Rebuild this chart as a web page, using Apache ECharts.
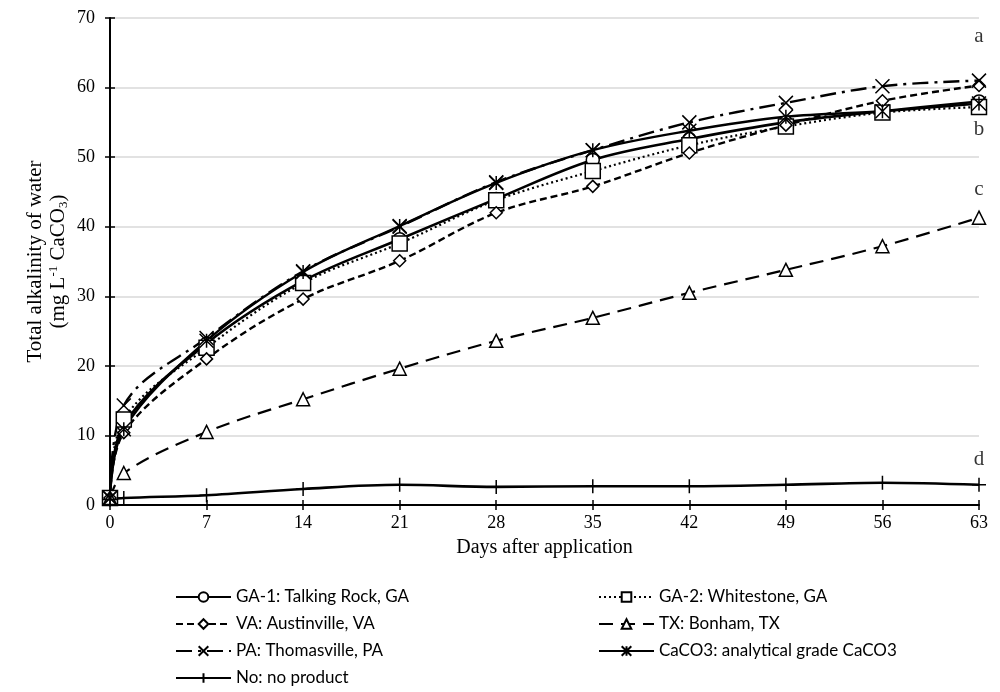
<!DOCTYPE html>
<html>
<head>
<meta charset="utf-8">
<script src="https://cdn.jsdelivr.net/npm/echarts@6/dist/echarts.min.js"></script>
<style>
  html, body { margin: 0; padding: 0; background: #fff; }
  #chart { width: 1000px; height: 692px; }
</style>
</head>
<body>
<div id="chart"></div>
<script>
// days of sampling
const days = [0, 1, 7, 14, 21, 28, 35, 42, 49, 56, 63];
// total alkalinity, mg L-1 CaCO3
const ga1 = [1.0, 11.5, 23.2, 32.2, 38.2, 44.0, 49.6, 52.6, 55.0, 56.6, 58.0];
const ga2 = [1.0, 12.3, 22.6, 31.9, 37.6, 43.8, 48.0, 51.7, 54.4, 56.4, 57.2];
const va = [1.0, 10.4, 21.0, 29.6, 35.1, 42.0, 45.8, 50.6, 54.6, 58.1, 60.3];
const tx = [1.0, 4.6, 10.5, 15.2, 19.6, 23.6, 26.9, 30.5, 33.8, 37.2, 41.3];
const pa = [1.0, 14.3, 24.0, 33.6, 40.0, 46.4, 51.0, 55.0, 57.8, 60.2, 61.0];
const caco3 = [1.0, 10.9, 23.6, 33.5, 40.1, 46.3, 51.0, 53.8, 55.8, 56.6, 57.7];
const noProduct = [0.8, 1.0, 1.4, 2.3, 2.9, 2.6, 2.7, 2.7, 2.9, 3.2, 2.9];
// x tick labels and significance letters at day 63
const xTicks = [0, 7, 14, 21, 28, 35, 42, 49, 56, 63];
const letters = ['a', 'b', 'c', 'd'];
const letterY = [67.4, 54.0, 45.4, 6.6];

const names = [
  'GA-1: Talking Rock, GA',
  'GA-2: Whitestone, GA',
  'VA: Austinville, VA',
  'TX: Bonham, TX',
  'PA: Thomasville, PA',
  'CaCO3: analytical grade CaCO3',
  'No: no product'
];

const symX = 'path://M0,0L10,10M10,0L0,10';
const symStar = 'path://M0,0L10,10M10,0L0,10M5,0L5,10';
const symPlus = 'path://M5,0L5,10M0,5L10,5';

let pairs = (vals) => days.map((d, i) => [d, vals[i]]);

let makeSeries = (name, vals, symbol, size, dash, width) => {
  return {
    name: name,
    type: 'line',
    data: pairs(vals),
    smooth: 0.35,
    symbol: symbol,
    symbolSize: size,
    showAllSymbol: true,
    lineStyle: { color: '#000', width: width, type: dash },
    itemStyle: { color: '#fff', borderColor: '#000', borderWidth: 1.5 },
    emphasis: { disabled: true },
    z: 3
  };
};

const series = [
  makeSeries(names[0], ga1, 'circle', 13, 'solid', 2.6),
  makeSeries(names[1], ga2, 'rect', 15, [2, 3], 2.2),
  makeSeries(names[2], va, 'diamond', 12, [7, 4], 2.4),
  makeSeries(names[3], tx, 'triangle', 13, [14, 8], 2.2),
  makeSeries(names[4], pa, symX, 14, [16, 6, 3, 6], 2.4),
  makeSeries(names[5], caco3, symStar, 14, 'solid', 2.4),
  makeSeries(names[6], noProduct, symPlus, 14, 'solid', 2.6)
];

// letters beside the curve ends
series.push({
  type: 'scatter',
  data: letters.map((l, i) => [63, letterY[i], l]),
  symbolSize: 0,
  silent: true,
  label: {
    show: true,
    position: 'inside',
    formatter: (p) => p.data[2],
    fontFamily: 'Liberation Serif',
    fontSize: 21,
    color: '#000'
  }
});

const serif = 'Liberation Serif';
let legendBase = (left, data) => ({
  orient: 'vertical',
  left: left,
  top: 587,
  height: 105,
  padding: 0,
  itemWidth: 55,
  itemHeight: 12,
  itemGap: 7,
  selectedMode: false,
  data: data,
  textStyle: { fontFamily: 'Lato', fontSize: 17, lineHeight: 20, color: '#000' }
});

const chart = echarts.init(document.getElementById('chart'));
chart.setOption({
  animation: false,
  backgroundColor: '#fff',
  grid: { left: 110, right: 21, top: 18, bottom: 187 },
  legend: [
    legendBase(175, [names[0], names[2], names[4], names[6]]),
    legendBase(598, [names[1], names[3], names[5]])
  ],
  xAxis: [{
    type: 'value',
    min: 0,
    max: 63,
    interval: 7,
    name: 'Days after application',
    nameLocation: 'middle',
    nameGap: 33,
    nameMoveOverlap: false,
    nameTextStyle: { fontFamily: serif, fontSize: 20, color: '#000' },
    axisLine: { lineStyle: { color: '#000', width: 2 } },
    axisTick: { length: 5, lineStyle: { color: '#000', width: 1.5 } },
    axisLabel: {
      fontFamily: serif, fontSize: 18, color: '#000', margin: 9,
      customValues: xTicks
    },
    splitLine: { show: false }
  }, {
    type: 'value',
    position: 'bottom',
    min: 0,
    max: 63,
    interval: 7,
    axisLine: { show: false },
    axisTick: { inside: true, length: 5, lineStyle: { color: '#000', width: 1.5 } },
    axisLabel: { show: false },
    splitLine: { show: false }
  }],
  yAxis: [{
    type: 'value',
    min: 0,
    max: 70,
    interval: 10,
    name: '{t|Total alkalinity of water}\n{t|(mg L}{sup|-1}{t| CaCO}{sub|3}{t|)}',
    nameLocation: 'middle',
    nameGap: 40,
    nameMoveOverlap: false,
    nameTextStyle: {
      fontFamily: serif,
      fontSize: 21,
      color: '#000',
      rich: {
        t: { fontFamily: serif, fontSize: 21, color: '#000', lineHeight: 23 },
        sup: { fontFamily: serif, fontSize: 13, color: '#000', lineHeight: 23, verticalAlign: 'top' },
        sub: { fontFamily: serif, fontSize: 13, color: '#000', lineHeight: 23, verticalAlign: 'bottom' }
      }
    },
    axisLine: { show: true, lineStyle: { color: '#000', width: 2 } },
    axisTick: { show: true, length: 5, lineStyle: { color: '#000', width: 1.5 } },
    axisLabel: { fontFamily: serif, fontSize: 18, color: '#000', margin: 15 },
    splitLine: { lineStyle: { color: '#d9d9d9', width: 1.5 } }
  }, {
    type: 'value',
    position: 'left',
    min: 0,
    max: 70,
    interval: 10,
    axisLine: { show: false },
    axisTick: { show: true, inside: true, length: 5, lineStyle: { color: '#000', width: 1.5 } },
    axisLabel: { show: false },
    splitLine: { show: false }
  }],
  series: series
});
</script>
</body>
</html>
